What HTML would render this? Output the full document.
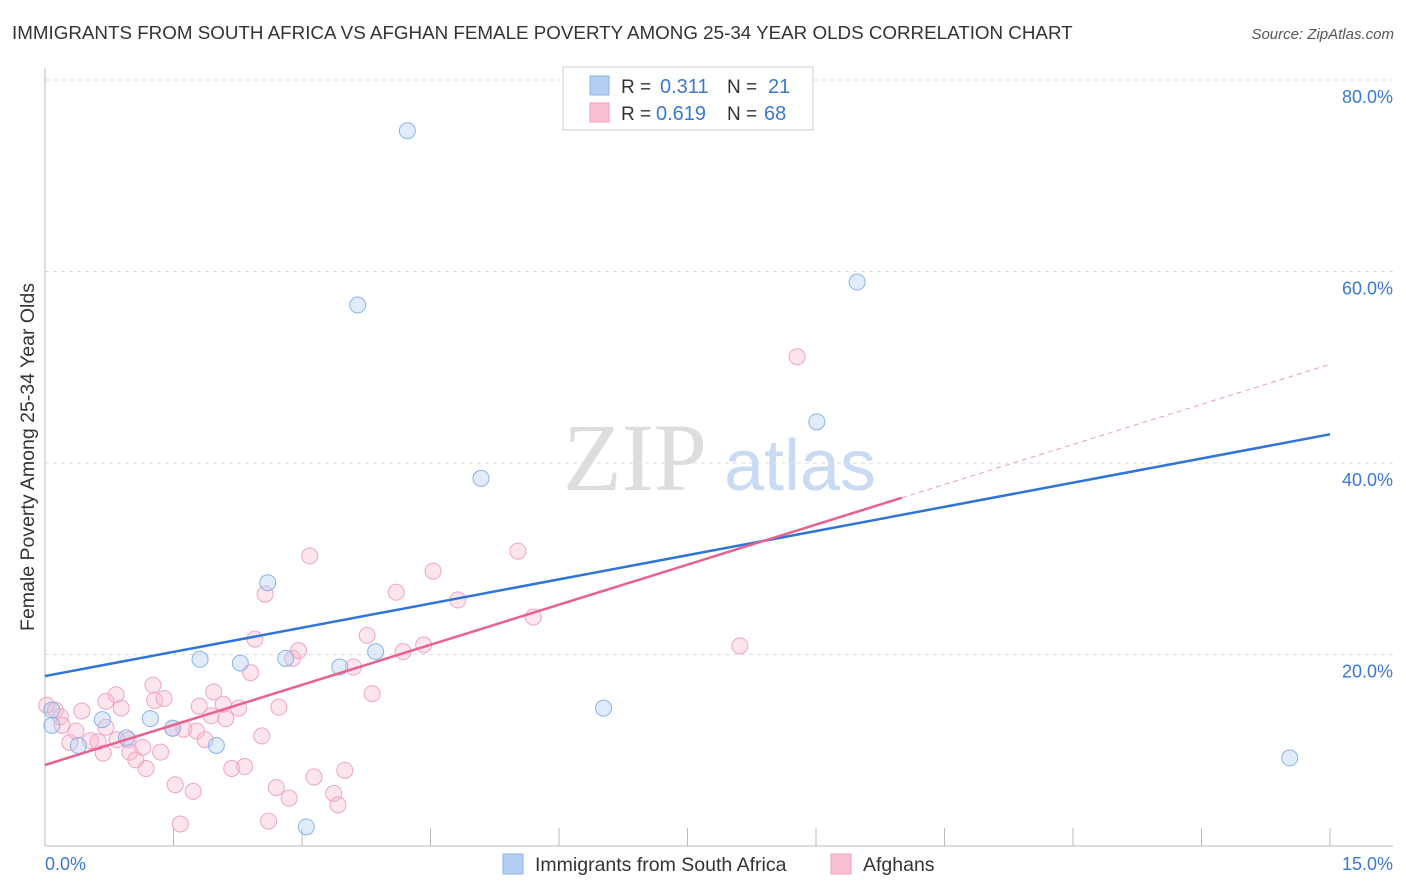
<!DOCTYPE html>
<html><head><meta charset="utf-8"><style>
body{margin:0;background:#fff;font-family:"Liberation Sans",sans-serif;}
#wrap{position:relative;width:1406px;height:892px;overflow:hidden;}
</style></head><body>
<div id="wrap">
<svg id="svg" width="1406" height="892" xmlns="http://www.w3.org/2000/svg">
<text x="12" y="39" font-size="18.8" fill="#333">IMMIGRANTS FROM SOUTH AFRICA VS AFGHAN FEMALE POVERTY AMONG 25-34 YEAR OLDS CORRELATION CHART</text>
<text x="1394" y="39" font-size="15" fill="#555" font-style="italic" text-anchor="end">Source: ZipAtlas.com</text>
<g>
<text x="635" y="490" font-size="96" fill="#ddd" font-family="Liberation Serif,serif" text-anchor="middle">ZIP</text>
<text x="800" y="490" font-size="72" fill="#c9daf3" text-anchor="middle">atlas</text>
</g>
<g id="grid"></g>
<g id="marks"></g>
<text transform="translate(34,457) rotate(-90)" font-size="19.5" fill="#333" text-anchor="middle">Female Poverty Among 25-34 Year Olds</text>
<g>
<rect x="563" y="67" width="250" height="63" fill="#fff" stroke="#ccc"/>
<rect x="590" y="76" width="19" height="19" fill="#b4cff2" stroke="#8ab4e8"/>
<rect x="590" y="103" width="19" height="19" fill="#f8c0d2" stroke="#f0a0b8"/>
<text x="621" y="93" font-size="19" fill="#333">R =</text>
<text x="660" y="93" font-size="20" fill="#3a78d4">0.311</text>
<text x="727" y="93" font-size="19" fill="#333">N =</text>
<text x="768" y="93" font-size="20" fill="#3a78d4">21</text>
<text x="621" y="120" font-size="19" fill="#333">R =</text>
<text x="656" y="120" font-size="20" fill="#3a78d4">0.619</text>
<text x="727" y="120" font-size="19" fill="#333">N =</text>
<text x="764" y="120" font-size="20" fill="#3a78d4">68</text>
</g>
<g>
<rect x="503" y="854" width="20" height="20" fill="#b4cff2" stroke="#8ab4e8"/>
<text x="535" y="871" font-size="19.5" fill="#333">Immigrants from South Africa</text>
<rect x="831" y="854" width="20" height="20" fill="#f8c0d2" stroke="#f0a0b8"/>
<text x="863" y="871" font-size="19.5" fill="#333">Afghans</text>
</g>
<text x="45" y="870" font-size="18" fill="#3a78d4">0.0%</text>
<text x="1393" y="870" font-size="18" fill="#3a78d4" text-anchor="end">15.0%</text>
</svg>
</div>
<script>
const yTicks=[20,40,60,80];
const xTickVals=[0,1.5,3,4.5,6,7.5,9,10.5,12,13.5,15];
const blueX=[4.23,3.65,9.48,9.01,5.09,2.60,1.81,2.28,2.81,3.44,3.86,6.52,14.53,3.05,0.08,0.08,0.67,1.23,0.95,1.49,2.0,0.39];
const blueY=[74.7,56.5,58.9,44.3,38.4,27.5,19.5,19.1,19.6,18.7,20.3,14.4,9.2,2.0,14.2,12.6,13.2,13.3,11.3,12.3,10.5,10.5];
const pinkX=[8.78,5.52,3.09,4.53,2.57,4.10,4.82,5.70,8.11,3.76,2.45,4.42,2.96,4.18,2.89,3.60,2.40,1.26,1.97,3.82,0.83,0.71,1.28,1.39,1.80,2.26,2.73,0.89,0.43,2.08,0.02,0.18,1.94,2.11,1.62,1.77,1.49,2.53,0.29,0.53,0.62,0.97,1.14,0.68,0.99,1.35,1.06,1.87,1.18,2.18,2.33,3.50,3.14,1.52,2.70,1.73,2.85,3.37,3.42,1.58,2.61,0.12,0.20,0.36,0.71,0.84];
const pinkY=[51.1,30.8,30.3,28.7,26.3,26.5,25.7,23.9,20.9,22.0,21.6,21.0,20.4,20.3,19.6,18.7,18.1,16.8,16.1,15.9,15.8,15.1,15.2,15.4,14.6,14.4,14.5,14.4,14.1,14.8,14.7,13.5,13.6,13.3,12.2,12.0,12.3,11.5,10.8,11.0,10.9,11.1,10.3,9.7,9.8,9.8,9.0,11.1,8.1,8.1,8.3,7.9,7.2,6.4,6.1,5.7,5.0,5.5,4.3,2.3,2.6,14.2,12.6,12.0,12.4,11.1];
const blueLine=[17.75,1.683];
const pinkLine=[8.46,2.79];
const pinkSolidEnd=10.0;
const NS="http://www.w3.org/2000/svg";
const sx=v=>45+v/15*1285;
const sy=v=>846-v*9.575;
function mk(tag,attrs,parent){const e=document.createElementNS(NS,tag);for(const k in attrs)e.setAttribute(k,attrs[k]);parent.appendChild(e);return e;}
const grid=document.getElementById('grid'),marks=document.getElementById('marks');
yTicks.forEach(t=>{
 const l=mk('line',{x1:45,x2:1393,y1:sy(t),y2:sy(t),stroke:'#ddd','stroke-dasharray':'4,4'},grid);
 
 
 const tx=mk('text',{x:1393,y:sy(t)+23,'font-size':18,fill:'#3a78d4','text-anchor':'end'},grid);
 tx.textContent=t.toFixed(1)+'%';
 
 
});
const ax=mk('line',{x1:45,x2:45,y1:68,y2:846,stroke:'#bbb'},grid);


const bx=mk('line',{x1:45,x2:1393,y1:846,y2:846,stroke:'#bbb'},grid);


xTickVals.forEach(t=>{
 const l=mk('line',{x1:sx(t),x2:sx(t),y1:828,y2:846,stroke:'#bbb'},grid);
 
 
});
function pts(X,Y,fill,stroke,name){
 X.forEach((x,i)=>{
  const c=mk('circle',{cx:sx(x),cy:sy(Y[i]),r:8,fill:fill,'fill-opacity':0.35,stroke:stroke,'stroke-width':1},marks);
  
  
 });
}
pts(pinkX,pinkY,'#f8b4ca','#f0a6be','afghans-point');
pts(blueX,blueY,'#a9c8f0','#8ab4e8','south-africa-point');
const bl=mk('line',{x1:sx(0),y1:sy(blueLine[0]),x2:sx(15),y2:sy(blueLine[0]+blueLine[1]*15),stroke:'#2f74d8','stroke-width':2.5},marks);


const pl=mk('line',{x1:sx(0),y1:sy(pinkLine[0]),x2:sx(pinkSolidEnd),y2:sy(pinkLine[0]+pinkLine[1]*pinkSolidEnd),stroke:'#e8628e','stroke-width':2.5},marks);


const pd=mk('line',{x1:sx(pinkSolidEnd),y1:sy(pinkLine[0]+pinkLine[1]*pinkSolidEnd),x2:sx(15),y2:sy(pinkLine[0]+pinkLine[1]*15),stroke:'#e8a0b8','stroke-width':1,'stroke-dasharray':'5,4'},marks);


</script>
</body></html>
